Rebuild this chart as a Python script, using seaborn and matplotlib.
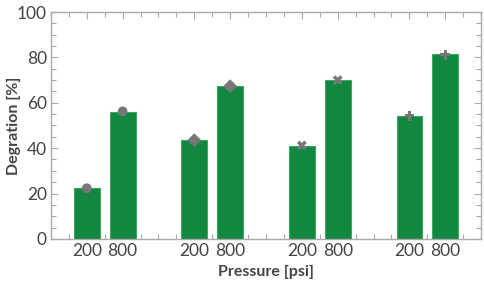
import matplotlib
matplotlib.use('Agg')
import matplotlib.pyplot as plt
import pandas as pd
import seaborn as sns
from matplotlib.ticker import MultipleLocator

# Data
groups = ['A', 'A', 'B', 'B', 'C', 'C', 'D', 'D']
pressure = ['200', '800', '200', '800', '200', '800', '200', '800']
degradation = [22.5, 56.0, 43.5, 67.5, 41.0, 70.0, 54.0, 81.5]
measured = [22.3, 56.2, 43.5, 67.3, 41.2, 70.0, 54.3, 81.2]
group_markers = {'A': 'o', 'B': 'D', 'C': 'X', 'D': 'P'}

df = pd.DataFrame({'group': groups, 'pressure': pressure,
                   'degradation': degradation, 'measured': measured})
# Each group takes two slots plus a gap slot
group_index = {g: i for i, g in enumerate(dict.fromkeys(groups))}
df['pos'] = [group_index[g] * 3 + (0 if p == '200' else 1)
             for g, p in zip(df['group'], df['pressure'])]

sns.set_style('white')
plt.rcParams['font.family'] = ['Lato', 'DejaVu Sans']

fig = plt.figure(figsize=(4.85, 2.82), dpi=100)
ax = fig.add_axes([0.105, 0.153, 0.887, 0.804])

sns.barplot(data=df, x='pos', y='degradation', native_scale=True,
            width=0.72, color='#118740', saturation=1,
            edgecolor='#3aa860', linewidth=0.8, ax=ax)
sns.scatterplot(data=df, x='pos', y='measured', style='group',
                markers=group_markers, color='#777777', s=50,
                edgecolor='none', legend=False, ax=ax, zorder=5)

ax.set_xlim(-1, 11)
ax.set_ylim(0, 100)
ax.set_xticks(df['pos'])
ax.set_xticklabels(df['pressure'])
ax.xaxis.set_minor_locator(MultipleLocator(0.5))
ax.yaxis.set_major_locator(MultipleLocator(20))
ax.yaxis.set_minor_locator(MultipleLocator(5))

for s in ax.spines.values():
    s.set_color('#aaaaaa')
    s.set_linewidth(1.0)

ax.tick_params(which='both', direction='in', top=True, right=True,
               bottom=True, left=True, color='#aaaaaa', width=0.8)
ax.tick_params(which='major', length=5, labelsize=12.5, labelcolor='#444444', pad=3)
ax.tick_params(which='minor', length=3.5)

ax.set_xlabel('Pressure [psi]', fontsize=11.5, fontweight='bold', color='#444444', labelpad=4)
ax.set_ylabel('Degration [%]', fontsize=11.5, fontweight='bold', color='#444444')
ax.yaxis.set_label_coords(-0.07, 0.5)

fig.savefig('out.png', dpi=100)
